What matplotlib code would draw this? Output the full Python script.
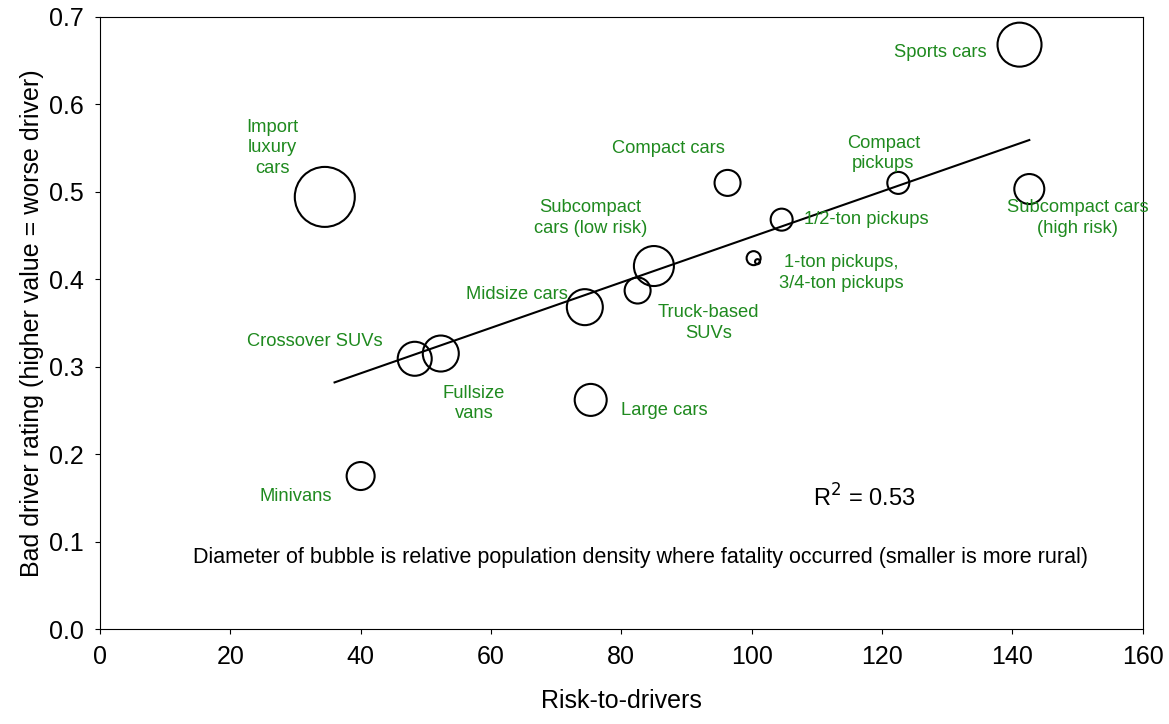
import numpy as np
import matplotlib
matplotlib.use('Agg')
from matplotlib import pyplot as plt

plt.rcParams['font.family'] = ['Liberation Sans', 'DejaVu Sans']

# Vehicle categories, risk-to-drivers, bad driver rating, bubble diameter (px)
names = ['Sports cars', 'Import luxury cars', 'Compact cars', 'Compact pickups',
         'Subcompact cars (high risk)', '1/2-ton pickups', '1-ton pickups',
         '3/4-ton pickups', 'Subcompact cars (low risk)', 'Truck-based SUVs',
         'Midsize cars', 'Crossover SUVs', 'Fullsize vans', 'Large cars',
         'Minivans']
risk = [141.1, 34.5, 96.3, 122.5, 142.6, 104.6, 100.3, 100.9, 85.0, 82.5,
        74.4, 48.3, 52.3, 75.3, 40.0]
rating = [0.668, 0.494, 0.510, 0.510, 0.503, 0.468, 0.424, 0.420, 0.415,
          0.387, 0.368, 0.309, 0.315, 0.262, 0.175]
diam = [44, 60, 26, 22, 30, 22, 14, 5, 40, 26, 36, 34, 36, 32, 28]

labels = [('Sports cars', 136, 0.659, 'right'),
          ('Import\nluxury\ncars', 26.4, 0.550, 'center'),
          ('Compact cars', 87.3, 0.549, 'center'),
          ('Compact\npickups', 120.2, 0.544, 'center'),
          ('Subcompact cars\n(high risk)', 150, 0.470, 'center'),
          ('1/2-ton pickups', 108, 0.468, 'left'),
          ('1-ton pickups,\n3/4-ton pickups', 113.8, 0.407, 'center'),
          ('Subcompact\ncars (low risk)', 75.3, 0.470, 'center'),
          ('Truck-based\nSUVs', 93.4, 0.350, 'center'),
          ('Midsize cars', 71.8, 0.383, 'right'),
          ('Crossover SUVs', 43.4, 0.329, 'right'),
          ('Fullsize\nvans', 57.4, 0.258, 'center'),
          ('Large cars', 80, 0.250, 'left'),
          ('Minivans', 35.6, 0.152, 'right')]

trend_x = [36.0, 142.6]
trend_y = [0.282, 0.559]

fig = plt.figure(figsize=(11.69, 7.24), dpi=100)
ax = fig.add_axes([0.0855, 0.131, 0.892, 0.846])

sizes = [(d * 0.72) ** 2 for d in diam]
ax.scatter(risk, rating, s=sizes, facecolors='none', edgecolors='black',
           linewidths=1.5, zorder=3)
ax.plot(trend_x, trend_y, color='black', linewidth=1.5)

green = '#1f8a1f'
for text, x, y, ha in labels:
    ax.text(x, y, text, color=green, fontsize=13.2, ha=ha, va='center',
            linespacing=1.25)

ax.text(117.3, 0.150, 'R$^2$ = 0.53', fontsize=17, ha='center', va='center')
ax.text(83, 0.082, 'Diameter of bubble is relative population density where '
        'fatality occurred (smaller is more rural)', fontsize=15.5,
        ha='center', va='center')

ax.set_xlim(0, 160)
ax.set_ylim(0, 0.7)
ax.set_xticks(np.arange(0, 161, 20))
ax.set_yticks(np.arange(0, 0.71, 0.1))
ax.set_yticklabels(['{:.1f}'.format(v) for v in np.arange(0, 0.71, 0.1)])
ax.tick_params(labelsize=18, direction='out', pad=8)
ax.set_xlabel('Risk-to-drivers', fontsize=18, labelpad=14)
ax.set_ylabel('Bad driver rating (higher value = worse driver)', fontsize=18)

fig.savefig('out.png', dpi=100)
